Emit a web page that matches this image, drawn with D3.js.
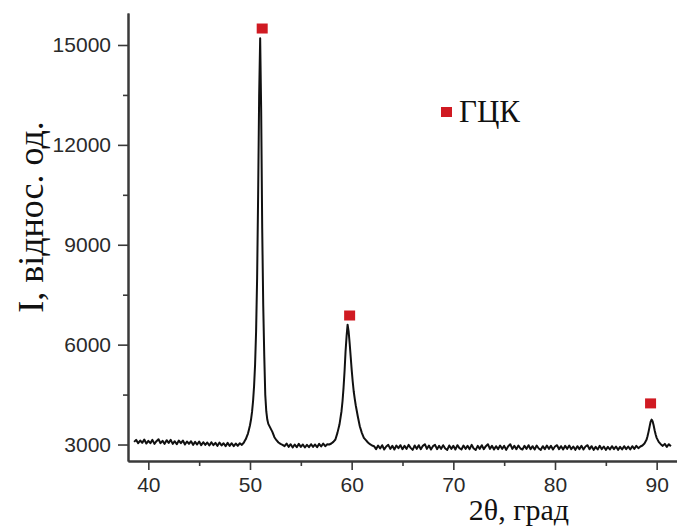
<!DOCTYPE html>
<html>
<head>
<meta charset="utf-8">
<script src="https://cdn.jsdelivr.net/npm/d3@7/dist/d3.min.js"></script>
<style>
  html, body { margin: 0; padding: 0; background: #fff; }
  svg { display: block; }
</style>
</head>
<body>
<svg id="chart" width="677" height="527"></svg>
<script>
// ---- data ----
// XRD scan: [2θ (deg), intensity (rel. units)]
const xrdScan = [
  [38.6,3080],[38.8,3140],[39.0,3040],[39.2,3120],[39.4,3050],[39.6,3150],[39.8,3030],[40.0,3110],
  [40.2,3040],[40.4,3140],[40.6,3020],[40.8,3100],[41.0,3160],[41.2,3040],[41.4,3110],[41.6,3020],
  [41.8,3130],[42.0,3050],[42.2,3140],[42.4,3020],[42.6,3100],[42.8,3010],[43.0,3120],[43.2,3040],
  [43.4,3120],[43.6,3000],[43.8,3090],[44.0,3020],[44.2,3100],[44.4,2990],[44.6,3080],[44.8,3000],
  [45.0,3090],[45.2,2980],[45.4,3070],[45.6,2990],[45.8,3060],[46.0,2970],[46.2,3070],[46.4,2980],
  [46.6,3050],[46.8,2960],[47.0,3060],[47.2,2970],[47.4,3040],[47.6,2950],[47.8,3050],[48.0,2960],
  [48.2,3040],[48.4,2950],[48.6,3030],[48.8,2960],[49.0,3040],[49.2,2990],
  [49.4,3060],[49.5,3120],[49.6,3170],[49.7,3250],[49.8,3330],[49.9,3450],[50.0,3580],[50.1,3750],
  [50.2,3980],[50.3,4300],[50.4,4750],[50.5,5400],[50.6,6400],[50.7,8000],[50.8,10500],[50.9,13500],
  [51.0,15200],[51.1,13000],[51.2,9500],[51.3,7200],[51.4,5700],[51.5,4500],[51.6,4000],[51.7,3750],
  [51.8,3620],[51.9,3560],[52.0,3500],[52.2,3380],[52.4,3220],[52.6,3130],[52.8,3060],[53.0,3020],
  [53.2,2990],
  [53.4,2950],[53.6,3030],[53.8,2930],[54.0,3010],[54.2,2910],[54.4,3000],[54.6,2920],[54.8,3020],
  [55.0,2930],[55.2,3000],[55.4,2910],[55.6,2990],[55.8,2920],[56.0,3010],[56.2,2930],[56.4,3000],
  [56.6,2920],[56.8,3020],[57.0,2940],[57.2,3030],[57.4,2950],[57.6,3010],
  [57.8,3000],[58.0,3030],[58.2,3080],[58.4,3150],[58.6,3350],[58.8,3600],[59.0,4000],[59.1,4300],
  [59.2,4700],[59.3,5200],[59.4,5800],[59.5,6250],[59.6,6600],[59.7,6400],[59.8,6050],[59.9,5650],
  [60.0,5250],[60.1,4900],[60.2,4600],[60.3,4380],[60.4,4180],[60.6,3850],[60.8,3550],[61.0,3350],
  [61.2,3200],[61.4,3130],[61.6,3060],[61.8,3010],[62.0,2970],
  [62.2,2950],[62.4,2860],[62.6,2970],[62.8,2880],[63.0,2980],[63.2,2850],[63.4,2940],[63.6,2990],
  [63.8,2870],[64.0,2960],[64.2,2850],[64.4,2970],[64.6,2890],[64.8,2980],[65.0,2860],[65.2,2960],
  [65.4,2870],[65.6,2990],[65.8,2900],[66.0,2840],[66.2,2970],[66.4,2870],[66.6,2980],[66.8,2860],
  [67.0,2960],[67.2,3010],[67.4,2870],[67.6,2970],[67.8,2850],[68.0,2950],[68.2,2990],[68.4,2860],
  [68.6,2960],[68.8,2870],[69.0,2980],[69.2,2880],[69.4,2840],[69.6,2970],[69.8,2870],[70.0,2960],
  [70.2,2850],[70.4,2980],[70.6,2890],[70.8,2850],[71.0,2970],[71.2,2870],[71.4,2960],[71.6,2860],
  [71.8,2990],[72.0,2880],[72.2,2840],[72.4,2960],[72.6,2870],[72.8,2980],[73.0,2860],[73.2,2950],
  [73.4,3010],[73.6,2870],[73.8,2960],[74.0,2850],[74.2,2950],[74.4,2860],[74.6,2970],[74.8,2870],
  [75.0,2960],[75.2,2840],[75.4,2950],[75.6,3010],[75.8,2870],[76.0,2960],[76.2,2860],[76.4,2970],
  [76.6,2880],[76.8,2850],[77.0,2960],[77.2,2870],[77.4,2980],[77.6,2860],[77.8,2950],[78.0,2850],
  [78.2,2970],[78.4,2880],[78.6,2840],[78.8,2950],[79.0,2860],[79.2,2970],[79.4,2870],[79.6,2960],
  [79.8,2850],[80.0,2940],[80.2,2980],[80.4,2860],[80.6,2950],[80.8,2850],[81.0,2960],[81.2,2870],
  [81.4,2970],[81.6,2860],[81.8,2940],[82.0,2840],[82.2,2950],[82.4,2860],[82.6,2960],[82.8,2850],
  [83.0,2940],[83.2,2980],[83.4,2860],[83.6,2950],[83.8,2840],[84.0,2930],[84.2,2850],[84.4,2960],
  [84.6,2860],[84.8,2940],[85.0,2840],[85.2,2930],[85.4,2850],[85.6,2950],[85.8,2860],[86.0,2940],
  [86.2,2840],[86.4,2930],[86.6,2850],[86.8,2950],[87.0,2860],[87.2,2940],[87.4,2850],[87.6,2950],
  [87.8,2870],[88.0,2960],[88.2,2890],
  [88.4,2940],[88.6,2970],[88.8,3030],[89.0,3140],[89.1,3250],[89.2,3380],[89.3,3530],[89.4,3680],
  [89.5,3750],[89.6,3700],[89.7,3580],[89.8,3430],[89.9,3300],[90.0,3200],[90.2,3080],[90.4,3010],
  [90.6,2960],[90.8,3020],[91.0,2930],[91.2,3010],[91.4,2950]
];

// FCC (ГЦК) reflection markers
const markerTheta = [51.2, 59.8, 89.4];
const markerI = [15480, 6860, 4220];

// axes
const xDomain = [38, 92];
const yDomain = [2505, 15961];
const xMajorTicks = [40, 50, 60, 70, 80, 90];
const xMinorTicks = [45, 55, 65, 75, 85];
const yMajorTicks = [3000, 6000, 9000, 12000, 15000];
const yMinorTicks = [4500, 7500, 10500, 13500];

const xTitle = "2θ, град";
const yTitle = "I, віднос. од.";
const legendLabel = "ГЦК";

// ---- drawing ----
const svg = d3.select("#chart");
const plotLeft = 128, plotRight = 677, plotTop = 13, plotBottom = 461;

const x = d3.scaleLinear().domain(xDomain).range([plotLeft, plotRight]);
const y = d3.scaleLinear().domain(yDomain).range([plotBottom, plotTop]);

const axisColor = "#3a3a3a";
const sansFont = "'Liberation Sans', Arial, sans-serif";
const serifFont = "'Liberation Serif', 'Times New Roman', serif";

const xMinorAxis = d3.axisBottom(x).tickValues(xMinorTicks).tickSize(5).tickFormat("").tickSizeOuter(0);
const yMinorAxis = d3.axisLeft(y).tickValues(yMinorTicks).tickSize(5).tickFormat("").tickSizeOuter(0);
const xAxis = d3.axisBottom(x).tickValues(xMajorTicks).tickSize(9).tickPadding(7).tickSizeOuter(0).tickFormat(d3.format("d"));
const yAxis = d3.axisLeft(y).tickValues(yMajorTicks).tickSize(10).tickPadding(7).tickSizeOuter(0).tickFormat(d3.format("d"));

function styleAxis(g) {
  g.select(".domain").attr("stroke", axisColor).attr("stroke-width", 2);
  g.selectAll(".tick line").attr("stroke", axisColor).attr("stroke-width", 1.6);
  g.selectAll(".tick text").attr("fill", "#2a2a2a").style("font-family", sansFont).style("font-size", "21px");
}

svg.append("g").attr("transform", `translate(0,${plotBottom})`).call(xMinorAxis).call(styleAxis);
svg.append("g").attr("transform", `translate(${plotLeft},0)`).call(yMinorAxis).call(styleAxis);
svg.append("g").attr("transform", `translate(0,${plotBottom})`).call(xAxis).call(styleAxis);
svg.append("g").attr("transform", `translate(${plotLeft},0)`).call(yAxis).call(styleAxis);

// data line
const line = d3.line().x(d => x(d[0])).y(d => y(d[1]));
svg.append("path")
  .datum(xrdScan)
  .attr("d", line)
  .attr("fill", "none")
  .attr("stroke", "#111")
  .attr("stroke-width", 2)
  .attr("stroke-linejoin", "round");

// markers
const markerColor = "#d01a22";
const ms = 11;
svg.append("g").selectAll("rect")
  .data(markerTheta.map((t, i) => [t, markerI[i]]))
  .join("rect")
  .attr("x", d => x(d[0]) - ms / 2)
  .attr("y", d => y(d[1]) - ms / 2)
  .attr("width", ms)
  .attr("height", ms - 1)
  .attr("fill", markerColor);

// legend
const lg = svg.append("g").attr("transform", "translate(446,112)");
lg.append("rect").attr("x", -5).attr("y", -5).attr("width", 11).attr("height", 10).attr("fill", markerColor);
lg.append("text").attr("x", 13).attr("y", 10)
  .style("font-family", serifFont).style("font-size", "31px").attr("fill", "#111")
  .text(legendLabel);

// axis titles
svg.append("text")
  .attr("x", 519).attr("y", 520)
  .attr("text-anchor", "middle")
  .style("font-family", serifFont).style("font-size", "30px").attr("fill", "#111")
  .text(xTitle);

svg.append("text")
  .attr("transform", "translate(43,217) rotate(-90)")
  .attr("text-anchor", "middle")
  .style("font-family", serifFont).style("font-size", "36px").attr("fill", "#111")
  .text(yTitle);
</script>
</body>
</html>
